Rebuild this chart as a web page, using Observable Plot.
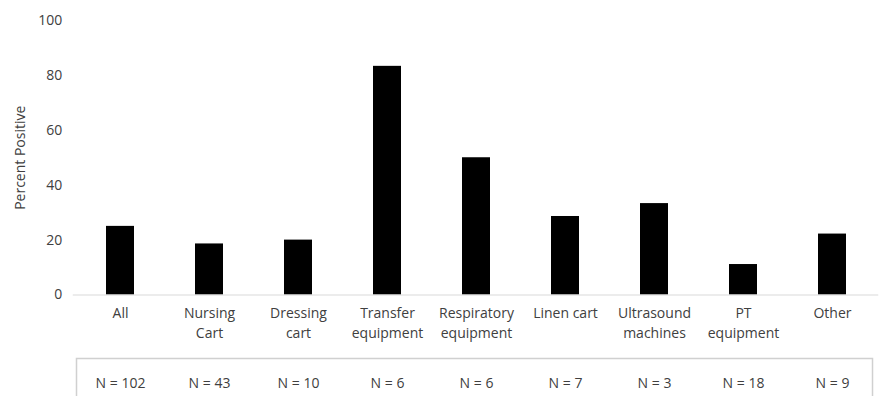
<!DOCTYPE html>
<html>
<head>
<meta charset="utf-8">
<script src="https://cdn.jsdelivr.net/npm/d3@7"></script>
<script src="https://cdn.jsdelivr.net/npm/@observablehq/plot@0.6"></script>
<style>
  html, body { margin: 0; padding: 0; background: #fff; overflow: hidden; }
  #chart svg { display: block; }
</style>
</head>
<body>
<div id="chart"></div>
<script>
const categories = ["All", "Nursing Cart", "Dressing cart", "Transfer equipment", "Respiratory equipment", "Linen cart", "Ultrasound machines", "PT equipment", "Other"];
const tickLabels = ["All", "Nursing\nCart", "Dressing\ncart", "Transfer\nequipment", "Respiratory\nequipment", "Linen cart", "Ultrasound\nmachines", "PT\nequipment", "Other"];
const percentPositive = [25, 18.6, 20, 83.3, 50, 28.6, 33.3, 11.1, 22.2];
const sampleSizes = [102, 43, 10, 6, 6, 7, 3, 18, 9];
const yTicks = [0, 20, 40, 60, 80, 100];

const data = categories.map((c, i) => ({category: c, label: tickLabels[i], value: percentPositive[i], n: sampleSizes[i]}));

const font = "'Open Sans', 'DejaVu Sans', sans-serif";
const textColor = "#404040";
const xRange = [72.75, 878.25];

const main = Plot.plot({
  width: 886,
  height: 345,
  marginTop: 20,
  marginBottom: 50.5,
  marginLeft: 72.75,
  marginRight: 7.75,
  style: {fontFamily: font, fontSize: "14px", color: textColor, background: "#fff"},
  x: {domain: categories, paddingInner: 0.69, paddingOuter: 0.345, align: 0.5, axis: null},
  y: {domain: [0, 100], ticks: yTicks, label: null},
  marks: [
    Plot.axisY({ticks: yTicks, tickSize: 0, tickPadding: 11, fontSize: 14, label: "Percent Positive", labelAnchor: "center", labelOffset: 58, labelArrow: false}),
    Plot.barY(data, {x: "category", y: "value", fill: "#000"}),
    Plot.ruleY([0], {stroke: "#d9d9d9", strokeWidth: 1}),
    Plot.text(data, {x: "category", text: "label", frameAnchor: "bottom", lineAnchor: "top", dy: 9, lineHeight: 1.43, fontSize: 14, fill: textColor})
  ]
});

const table = Plot.plot({
  width: 886,
  height: 60,
  marginTop: 13,
  marginBottom: 0,
  marginLeft: 76,
  marginRight: 14,
  style: {fontFamily: font, fontSize: "14px", color: textColor, background: "#fff"},
  x: {domain: categories, range: xRange, paddingInner: 0.69, paddingOuter: 0.345, align: 0.5, axis: null},
  marks: [
    Plot.frame({stroke: "#d0d0d0", strokeWidth: 1.5}),
    Plot.text(data, {x: "category", text: d => `N = ${d.n}`, frameAnchor: "top", dy: 20, fontSize: 14, fill: textColor})
  ]
});

document.getElementById("chart").append(main, table);
</script>
</body>
</html>
